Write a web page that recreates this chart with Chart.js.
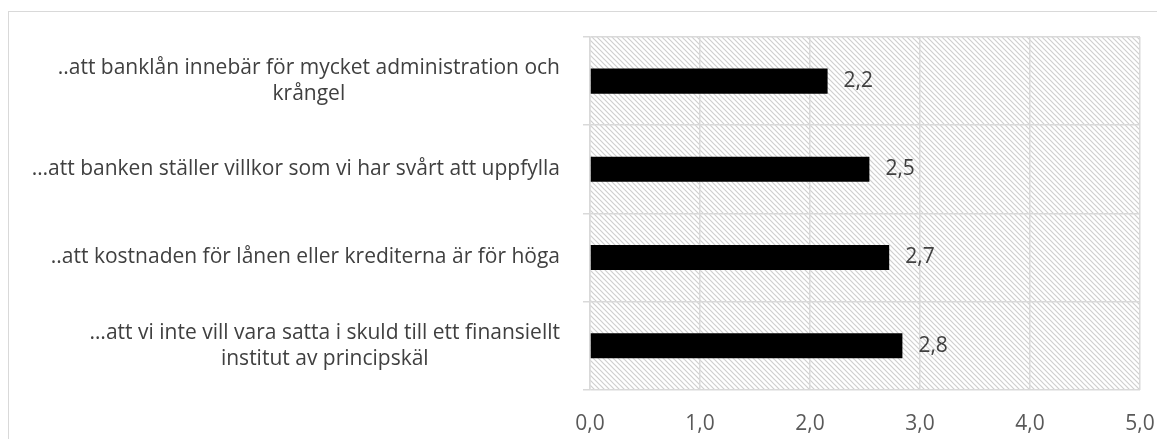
<!DOCTYPE html>
<html>
<head>
<meta charset="utf-8">
<script src="https://cdn.jsdelivr.net/npm/chart.js@4"></script>
<style>
  html, body { margin: 0; padding: 0; background: #fff; }
  #wrap { position: relative; width: 1157px; height: 439px; overflow: hidden; }
  #frame { position: absolute; left: 8px; top: 11px; width: 1160px; height: 440px; border: 1px solid #d9d9d9; box-sizing: border-box; }
  #chart { position: absolute; left: 0; top: 0; }
</style>
</head>
<body>
<div id="wrap">
  <div id="frame"></div>
  <canvas id="chart" width="1157" height="447"></canvas>
</div>
<script>
// Data
const categories = [
    ['..att banklån innebär för mycket administration och', 'krångel'],
    ['…att banken ställer villkor som vi har svårt att uppfylla'],
    ['..att kostnaden för lånen eller krediterna är för höga'],
    ['…att vi inte vill vara satta i skuld till ett finansiellt', 'institut av principskäl']
];
const values = [2.16, 2.54, 2.72, 2.84];
const xTicks = [0, 1, 2, 3, 4, 5];

const FONT = '"Open Sans", Lato, sans-serif';
const FSIZE = 21;

function fmt(v) {
    return v.toFixed(1).replace('.', ',');
}

// diagonal hatch for plot background
function makeHatch(ctx) {
    const c = document.createElement('canvas');
    c.width = 5; c.height = 5;
    const g = c.getContext('2d');
    g.strokeStyle = '#cfcfcf';
    g.lineWidth = 1.2;
    g.beginPath();
    g.moveTo(-1, -1); g.lineTo(6, 6);
    g.moveTo(-1, 4); g.lineTo(1, 6);
    g.moveTo(4, -1); g.lineTo(6, 1);
    g.stroke();
    return ctx.createPattern(c, 'repeat');
}

const hatchBg = {
    id: 'hatchBg',
    beforeDraw(chart) {
        const {ctx, chartArea: a} = chart;
        ctx.save();
        ctx.fillStyle = makeHatch(ctx);
        ctx.fillRect(a.left, a.top, a.right - a.left, a.bottom - a.top);
        ctx.restore();
    }
};

// category labels: each label's lines centred, widest line ending near the axis
const catLabels = {
    id: 'catLabels',
    afterDraw(chart) {
        const {ctx, chartArea} = chart;
        const yScale = chart.scales.y;
        ctx.save();
        ctx.font = FSIZE + 'px ' + FONT;
        ctx.fillStyle = '#404040';
        ctx.textAlign = 'center';
        ctx.textBaseline = 'middle';
        const right = chartArea.left - 30;
        const lh = 26;
        categories.forEach(function(lines, i) {
            const y = yScale.getPixelForValue(i);
            let widest = 0;
            lines.forEach(function(l) { widest = Math.max(widest, ctx.measureText(l).width); });
            const cx = right - widest / 2;
            const y0 = y - (lines.length - 1) * lh / 2;
            lines.forEach(function(l, j) { ctx.fillText(l, cx, y0 + j * lh); });
        });
        ctx.restore();
    }
};

// value labels to the right of each bar
const valueLabels = {
    id: 'valueLabels',
    afterDatasetsDraw(chart) {
        const {ctx} = chart;
        const meta = chart.getDatasetMeta(0);
        ctx.save();
        ctx.font = FSIZE + 'px ' + FONT;
        ctx.fillStyle = '#404040';
        ctx.textAlign = 'left';
        ctx.textBaseline = 'middle';
        meta.data.forEach(function(bar, i) {
            ctx.fillText(fmt(values[i]), bar.x + 16, bar.y);
        });
        ctx.restore();
    }
};

new Chart(document.getElementById('chart'), {
    type: 'bar',
    data: {
        labels: categories.map(function(l) { return l.join(' '); }),
        datasets: [{
            data: values,
            backgroundColor: '#000000',
            borderWidth: 0,
            categoryPercentage: 1,
            barPercentage: 0.285
        }]
    },
    options: {
        indexAxis: 'y',
        responsive: false,
        animation: false,
        events: [],
        layout: {
            padding: { left: 583, right: 17, top: 37, bottom: 8 }
        },
        plugins: {
            legend: { display: false },
            tooltip: { enabled: false }
        },
        scales: {
            x: {
                min: 0,
                max: 5,
                afterBuildTicks: function(scale) {
                    scale.ticks = xTicks.map(function(v) { return { value: v }; });
                },
                grid: { color: '#d9d9d9', lineWidth: 1.5, drawTicks: true, tickLength: 20, tickColor: 'rgba(0,0,0,0)' },
                border: { display: false },
                ticks: {
                    padding: 2,
                    color: '#595959',
                    font: { family: FONT, size: FSIZE },
                    callback: function(v) { return fmt(v); }
                }
            },
            y: {
                grid: { color: '#d9d9d9', lineWidth: 1.5, offset: true, tickLength: 7 },
                border: { color: '#d9d9d9', width: 1.5 },
                ticks: { display: false },
                afterFit: function(scale) { scale.width = 7; }
            }
        }
    },
    plugins: [hatchBg, catLabels, valueLabels]
});
</script>
</body>
</html>
